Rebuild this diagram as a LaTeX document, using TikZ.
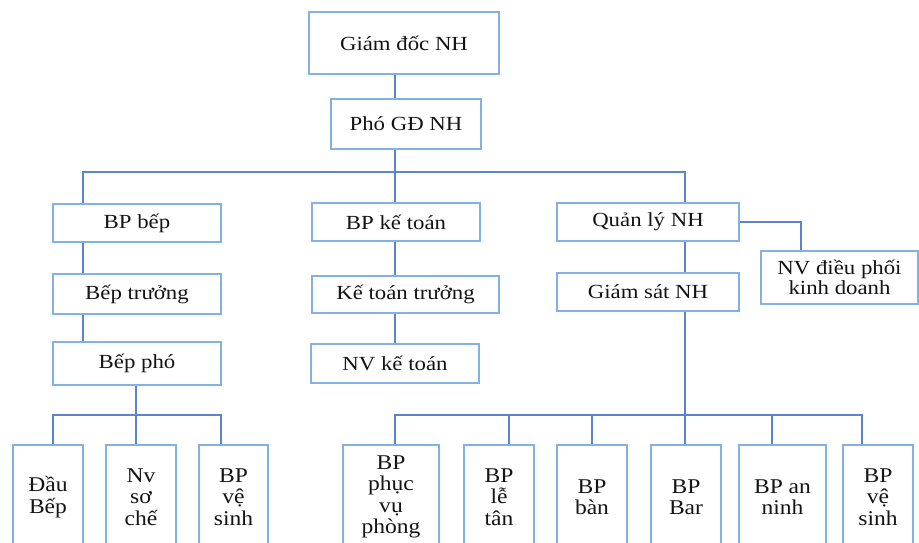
\documentclass[tikz,border=0pt]{standalone}
\usepackage{fontspec}
\setmainfont[FakeStretch=1.14]{Liberation Serif}
\newfontfamily\lowfont[FakeStretch=1.12]{Liberation Serif}
\definecolor{boxblue}{HTML}{82B1E6}
\definecolor{lineblue}{HTML}{5A83D2}
\definecolor{txt}{HTML}{141414}
\begin{document}
\begin{tikzpicture}[x=1pt,y=-1pt,
  box/.style={draw=boxblue, line width=1.2pt, fill=white, rectangle, inner sep=2pt, align=center, text=txt,
    font=\fontsize{20}{19.5}\selectfont},
  lowbox/.style={box, minimum width=#1, minimum height=104pt, font=\lowfont\fontsize{21}{21.5}\selectfont},
  conn/.style={draw=lineblue, line width=1.6pt}]
\useasboundingbox (0,0) rectangle (919,542);
\clip (0,0) rectangle (919,542);
\fill[white] (0,0) rectangle (919,542);
% top
\node[box, minimum width=190pt, minimum height=62pt] (gd) at (404,43) {Giám đốc NH};
\node[box, minimum width=150pt, minimum height=50pt] (pho) at (406,124) {Phó GĐ NH};
% level 3
\node[box, minimum width=168pt, minimum height=38pt] (bep) at (137,223) {BP bếp};
\node[box, minimum width=168pt, minimum height=38pt] (kt) at (396,222) {BP kế toán};
\node[box, minimum width=182pt, minimum height=38pt] (ql) at (648,222) {Quản lý NH};
% level 4
\node[box, minimum width=168pt, minimum height=40pt] (bt) at (137,294) {Bếp trưởng};
\node[box, minimum width=187pt, minimum height=37pt] (ktt) at (405.5,294.5) {Kế toán trưởng};
\node[box, minimum width=182pt, minimum height=38pt] (gs) at (648,292) {Giám sát NH};
\node[box, minimum width=157pt, minimum height=53pt] (nvdp) at (839.5,277.5) {NV điều phối\\kinh doanh};
% level 5
\node[box, minimum width=168pt, minimum height=43pt] (bp) at (137,363.5) {Bếp phó};
\node[box, minimum width=168pt, minimum height=39pt] (nvkt) at (395,363.5) {NV kế toán};
% bottom
\node[lowbox=70pt] (db) at (48,497) {Đầu\\Bếp};
\node[lowbox=70pt] (nvsc) at (141,497) {Nv\\sơ\\chế};
\node[lowbox=69pt] (vs1) at (233.5,497) {BP\\vệ\\sinh};
\node[lowbox=96pt] (pvp) at (391,497) {BP\\phục\\vụ\\phòng};
\node[lowbox=70pt] (lt) at (499,497) {BP\\lễ\\tân};
\node[lowbox=70pt] (ban) at (592,497) {BP\\bàn};
\node[lowbox=70pt] (bar) at (686,497) {BP\\Bar};
\node[lowbox=87pt] (an) at (782.5,497) {BP an\\ninh};
\node[lowbox=70pt] (vs2) at (878,497) {BP\\vệ\\sinh};
% connector coordinates
\coordinate (cm) at (395,0);
\coordinate (cl) at (83,0);
\coordinate (cr) at (685,0);
\coordinate (bus1) at (0,172);
\coordinate (bus2) at (0,415);
\coordinate (dp) at (801,0);
\coordinate (cb) at (136,0);
\coordinate (x1) at (53,0);
\coordinate (x3) at (221,0);
\coordinate (y1) at (509,0);
\coordinate (y2) at (592,0);
\coordinate (y4) at (772,0);
\coordinate (y5) at (862,0);
% connectors
\draw[conn] (gd.south -| cm) -- (pho.north -| cm);
\draw[conn] (pho.south -| cm) -- (kt.north -| cm);
\draw[conn] (bep.north -| cl) -- (bus1 -| cl) -- (bus1 -| cr) -- (ql.north -| cr);
\draw[conn] (bep.south -| cl) -- (bt.north -| cl);
\draw[conn] (bt.south -| cl) -- (bp.north -| cl);
\draw[conn] (kt.south -| cm) -- (ktt.north -| cm);
\draw[conn] (ktt.south -| cm) -- (nvkt.north -| cm);
\draw[conn] (ql.south -| cr) -- (gs.north -| cr);
\draw[conn] (ql.east) -- (ql.east -| dp) -- (nvdp.north -| dp);
% kitchen bus
\draw[conn] (bp.south -| cb) -- (nvsc.north -| cb);
\draw[conn] (db.north -| x1) -- (bus2 -| x1) -- (bus2 -| x3) -- (vs1.north -| x3);
% service bus
\draw[conn] (gs.south -| cr) -- (bar.north -| cr);
\draw[conn] (pvp.north -| cm) -- (bus2 -| cm) -- (bus2 -| y5) -- (vs2.north -| y5);
\draw[conn] (bus2 -| y1) -- (lt.north -| y1);
\draw[conn] (bus2 -| y2) -- (ban.north -| y2);
\draw[conn] (bus2 -| y4) -- (an.north -| y4);
\end{tikzpicture}
\end{document}
